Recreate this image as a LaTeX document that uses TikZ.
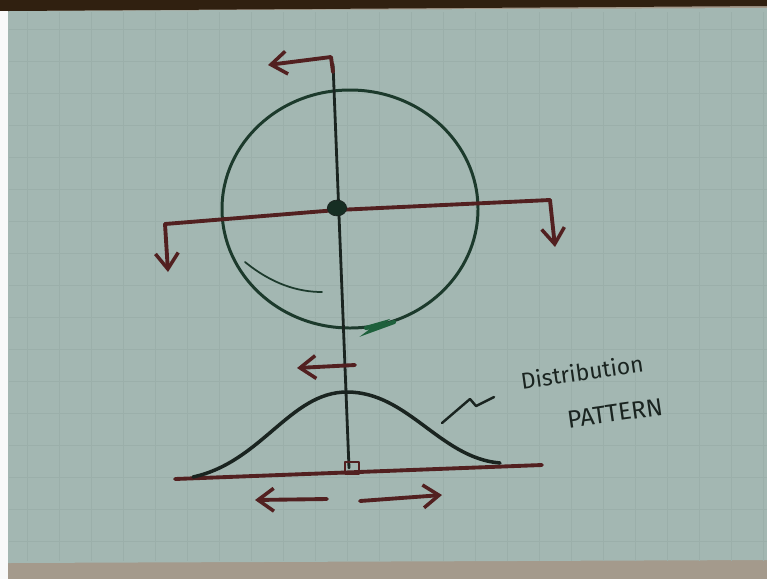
\documentclass[tikz,border=0pt]{standalone}
\usepackage{fontspec}
\setsansfont{Fira Sans}
\usepackage{tikz}
\usetikzlibrary{positioning}
\usetikzlibrary{shapes.geometric,arrows.meta}
\definecolor{board}{RGB}{163,183,178}
\definecolor{gridc}{RGB}{155,175,170}
\definecolor{inkc}{RGB}{26,36,32}
\definecolor{ringc}{RGB}{28,58,44}
\definecolor{smudge}{RGB}{30,96,60}
\definecolor{penc}{RGB}{82,32,32}
\definecolor{ledge}{RGB}{164,154,140}
\tikzset{
	ink/.style = {draw=inkc, line width=1.6pt, line cap=round, line join=round},
	ring/.style = {draw=ringc, line width=1.7pt, line cap=round},
	pen/.style = {draw=penc, line width=2.2pt, line cap=round, line join=round},
	barb/.style = {-{Straight Barb[length=9pt,width=13pt,line width=2pt]}},
	hub/.style = {ellipse, fill=ringc!80!black, draw=inkc, minimum width=11pt, minimum height=9pt, inner sep=0pt},
	word/.style = {font=\sffamily\fontsize{13}{13}\selectfont, text=inkc, rotate=8, inner sep=0pt},
}

\begin{document}
\begin{tikzpicture}[x=0.02cm,y=-0.02cm]
	\useasboundingbox (0,0) rectangle (767,579);
	\fill[ledge] (0,0) rectangle (767,579);
	\fill[board] (8,11) -- (767,8) -- (767,560) -- (8,563) -- cycle;
	\fill[black!75!brown] (0,0) -- (767,0) -- (767,6) -- (8,11) -- (0,11) -- cycle;
	\fill[white!92!board] (0,11) rectangle (8,579);
	\foreach \gx in {27,59,...,767} \draw[gridc, line width=0.4pt] (\gx,12) -- (\gx,561);
	\foreach \gy in {29,61,...,560} \draw[gridc, line width=0.4pt] (9,\gy) -- (767,\gy);

	\coordinate (axistop) at (333,64);
	\coordinate (axisfoot) at (349,468);
	\coordinate (topbend) at (331,57);
	\coordinate (toptip) at (268,65);
	\coordinate (barleft) at (165,224);
	\coordinate (barright) at (550,200);
	\coordinate (leftdrop) at (168,272);
	\coordinate (rightdrop) at (555,247);
	\coordinate (midtail) at (355,365);
	\coordinate (midtip) at (297,368);
	\coordinate (baseleft) at (175,479);
	\coordinate (baseright) at (542,465);
	\coordinate (footleft) at (193,477);
	\coordinate (peak) at (347,392);
	\coordinate (footright) at (500,463);
	\coordinate (lefttail) at (327,499);
	\coordinate (lefttip) at (255,500);
	\coordinate (righttail) at (360,501);
	\coordinate (righttip) at (442,495);

	\draw[ring] (350,209) ellipse [x radius=128, y radius=119];
	\draw[ring, line width=1pt] (245,262) .. controls (272,284) and (298,292) .. (322,292);
	\draw[draw=smudge, line width=2.4pt, line cap=round] (366,328) -- (380,324) -- (372,330) -- (394,322);

	\draw[ink] (axistop) -- (axisfoot);
	\draw[pen] (barleft) -- (337,210) -- (barright);
	\node (pivot) [hub] at (337,208) {};
	\draw[pen, barb] (barleft) -- (leftdrop);
	\draw[pen, barb] (barright) -- (rightdrop);
	\draw[pen, barb] (333,72) -- (topbend) -- (toptip);
	\draw[pen, barb] (midtail) -- (midtip);

	\draw[pen] (baseleft) -- (baseright);
	\draw[pen, line width=1.6pt] (345,462) rectangle (359,474);
	\draw[ink, line width=2pt] (footleft) .. controls (262,462) and (290,392) .. (peak)
		.. controls (408,392) and (440,458) .. (footright);
	\draw[pen, barb] (lefttail) -- (lefttip);
	\draw[pen, barb] (righttail) -- (righttip);

	\node (distlabel) [word] at (582,372) {Distribution};
	\node (patternlabel) [word, font=\sffamily\fontsize{14}{14}\selectfont] at (615,413) {PATTERN};
	\draw[ink, line width=1.4pt] (442,423) -- (470,399) -- (476,406) -- (494,397);
\end{tikzpicture}
\end{document}
